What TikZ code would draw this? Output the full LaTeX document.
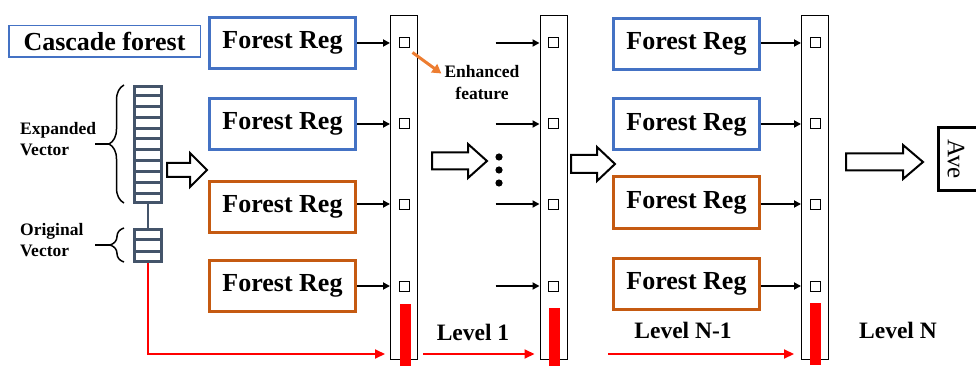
\documentclass[tikz,border=0pt]{standalone}
\usepackage{fontspec}
\setmainfont{Liberation Serif}
\usetikzlibrary{arrows.meta,decorations.pathreplacing}
\definecolor{regblue}{HTML}{4472C4}
\definecolor{regorange}{HTML}{C55A11}
\definecolor{vecgray}{HTML}{44546A}
\definecolor{enhorange}{HTML}{ED7D31}
\tikzset{
  reg/.style={draw=#1,line width=3pt,fill=white,minimum width=146pt,minimum height=51pt,inner sep=0pt,
    font=\bfseries\fontsize{26}{30}\selectfont},
  bar/.style={draw,line width=1pt,minimum width=27pt,minimum height=344pt,inner sep=0pt},
  sq/.style={draw,line width=1pt,minimum size=10pt,inner sep=0pt},
  vecbox/.style={draw=vecgray,line width=3pt,minimum width=27pt,inner sep=0pt},
  blk/.style={line width=1.8pt,-{Triangle[length=7pt,width=7pt]}},
  redarr/.style={red,line width=2pt,-{Triangle[length=10pt,width=9pt]}},
  lbl/.style={font=\bfseries\fontsize{23.5}{26}\selectfont,inner sep=0pt},
  small/.style={font=\bfseries\fontsize{17.5}{21.5}\selectfont,inner sep=0pt}
}
\begin{document}
\begin{tikzpicture}[x=1pt,y=-1pt]
\useasboundingbox (0,0) rectangle (976,366);
\coordinate (lvl) at (0,354);
% title
\node[draw=regblue,line width=1.5pt,minimum width=191.5pt,minimum height=31.5pt,inner sep=0pt,
  font=\bfseries\fontsize{26}{30}\selectfont] (title) at (104.5,41.5) {Cascade forest};
% input vectors
\node[vecbox,minimum height=116pt] (expv) at (148,144.5) {};
\foreach \i in {1,...,10}
\draw[vecgray,line width=3pt] ([yshift=-\i*10.8pt]expv.north west) -- ([yshift=-\i*10.8pt]expv.north east);
\node[vecbox,minimum height=32pt] (origv) at (148,245.5) {};
\foreach \i in {1,2}
\draw[vecgray,line width=3pt] ([yshift=-\i*11.7pt]origv.north west) -- ([yshift=-\i*11.7pt]origv.north east);
\draw[vecgray,line width=2.5pt] (expv.south) -- (origv.north);
\draw[line width=1.5pt,decorate,decoration={brace,amplitude=15pt}] (124,203) -- (124,85);
\draw[line width=1.5pt,decorate,decoration={brace,amplitude=14pt}] (124,262) -- (124,228);
\draw[line width=2pt] (95,144) -- (109,144);
\draw[line width=2pt] (95,245) -- (110,245);
\node[small,align=left,anchor=west] (expl) at (20,139) {Expanded\\Vector};
\node[small,align=left,anchor=west] (orgl) at (20,240) {Original\\Vector};
% bars and squares
\foreach \c/\x in {1/404,2/553.5,3/815}
\node[bar] (bar\c) at (\x,187.5) {};
\foreach \c/\x in {1/404,2/553.5,3/815}
\foreach \r/\y in {1/43,2/124,3/204,4/286}
\node[sq] (s\c\r) at (\x,\y) {};
\foreach \x/\y in {400/304,548.5/308,810/303}
\fill[red] (\x,\y) rectangle ++(11,62);
% forest regressors
\foreach \r/\y/\col in {1/43/regblue,2/124/regblue,3/207/regorange,4/285.5/regorange}
\node[reg=\col] (r1\r) at (282.5,\y) {Forest Reg};
\foreach \r/\y/\col in {1/44/regblue,2/124.5/regblue,3/202.5/regorange,4/284/regorange}
\node[reg=\col] (r3\r) at (686.5,\y) {Forest Reg};
\foreach \r in {1,2,3,4}
\draw[blk] (r1\r.east |- s1\r) -- (bar1.west |- s1\r);
\foreach \r in {1,2,3,4}
\draw[blk] ([xshift=-44pt]bar2.west |- s2\r) -- (bar2.west |- s2\r);
\foreach \r in {1,2,3,4}
\draw[blk] (r3\r.east |- s3\r) -- (bar3.west |- s3\r);
% enhanced feature
\node[small,align=center] (enh) at (482,82.5) {Enhanced\\feature};
\draw[enhorange,line width=3pt,-{Triangle[length=9pt,width=10pt]}] ([shift={(3pt,-4pt)}]s11.south east) -- ([shift={(-3pt,9pt)}]enh.west);
% hollow arrows
\foreach \xa/\xb/\xh/\yc/\w in {167/207/190/170/7, 432/487/468/161/8.5, 571/615/597/164/9, 846/923/903/162/8.5}
\draw[line width=2pt,fill=white,line join=miter] (\xa,\yc-\w) -- (\xh,\yc-\w) -- (\xh,\yc-17) -- (\xb,\yc) -- (\xh,\yc+17) -- (\xh,\yc+\w) -- (\xa,\yc+\w) -- cycle;
\foreach \y in {157,170,183}
\fill (499,\y) circle (3.6);
% output
\draw[line width=3pt] (938.5,127.5) rectangle (990,190.5);
\node[rotate=-90,font=\fontsize{25}{28}\selectfont,inner sep=0pt] (ave) at (956,159) {Ave};
% levels
\node[lbl] (lv1) at (473,332) {Level 1};
\node[lbl] (lvn1) at (683,330) {Level N-1};
\node[lbl] (lvn) at (898,330) {Level N};
\draw[redarr] (origv.south) |- ([xshift=-5pt]bar1.west |- lvl);
\draw[redarr] ([xshift=5pt]bar1.east |- lvl) -- ([xshift=-5pt]bar2.west |- lvl);
\draw[redarr] ([xshift=-4pt]r34.west |- lvl) -- ([xshift=-7pt]bar3.west |- lvl);
\end{tikzpicture}
\end{document}
